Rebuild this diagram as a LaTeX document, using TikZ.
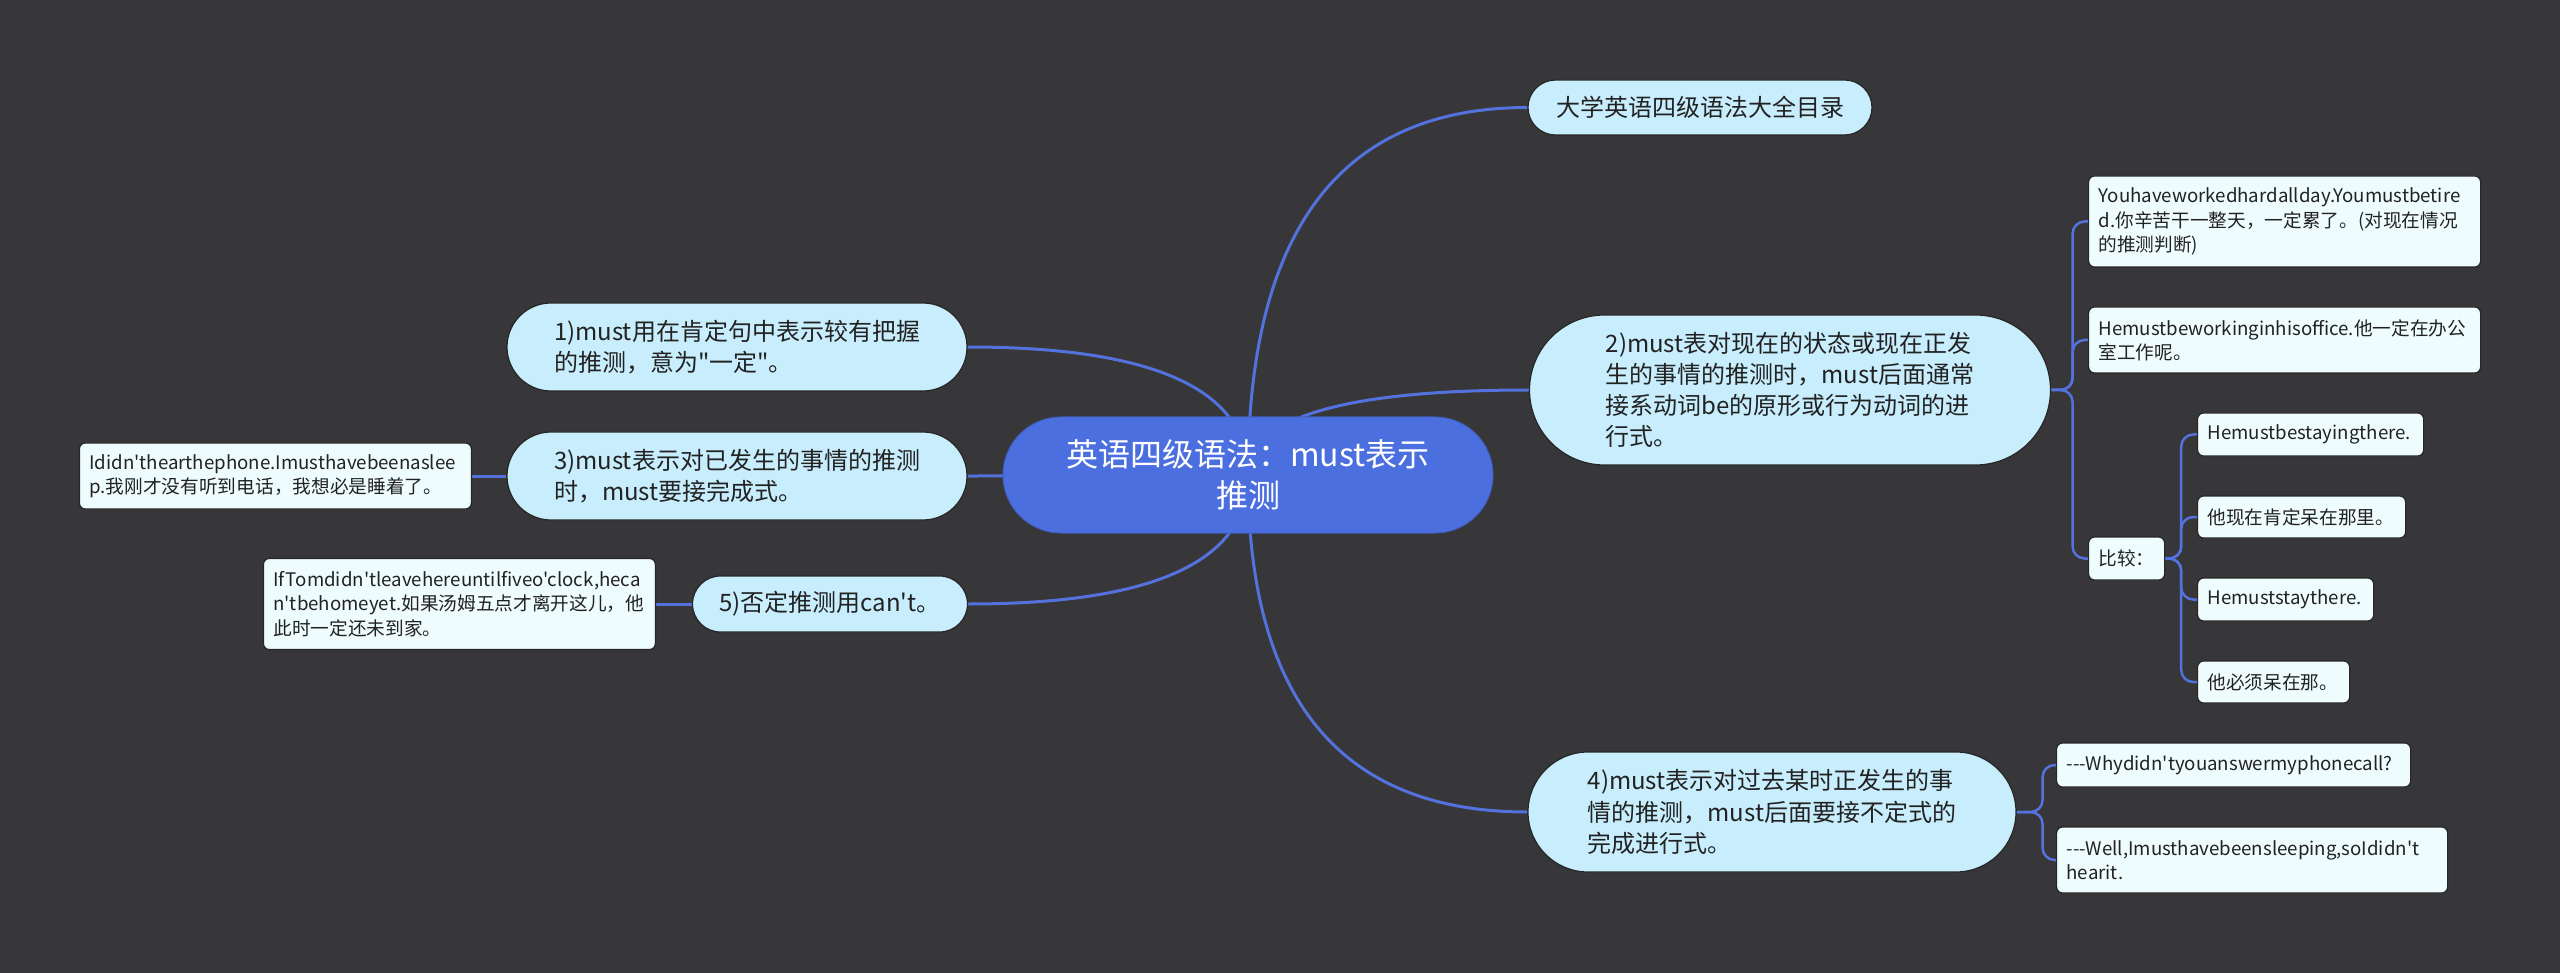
\documentclass[tikz,border=0pt]{standalone}
\usepackage{fontspec}
\newfontfamily\cjk{Noto Sans CJK SC}
\usetikzlibrary{shapes.misc,calc}
\definecolor{canvas}{RGB}{55,54,56}
\definecolor{rootblue}{RGB}{76,111,224}
\definecolor{linkblue}{RGB}{84,114,222}
\definecolor{topicfill}{RGB}{200,237,252}
\definecolor{notefill}{RGB}{239,252,253}
\definecolor{inktext}{RGB}{34,34,34}
\pgfdeclarelayer{back}
\pgfdeclarelayer{wires}
\pgfsetlayers{back,wires,main}
\hyphenpenalty=10000
\tikzset{
  rootnode/.style={rounded rectangle, fill=rootblue, draw=rootblue!85!black,
    line width=1pt, text=white, inner sep=0pt, align=center,
    font=\cjk\fontsize{32}{41.6}\selectfont},
  topicnode/.style={rounded rectangle, fill=topicfill, draw=black!85,
    line width=1.2pt, text=inktext, inner sep=0pt, align=left,
    font=\cjk\fontsize{24}{31.2}\selectfont},
  notenode/.style={rectangle, rounded corners=6pt, fill=notefill, draw=black!85,
    line width=1.2pt, text=inktext, inner xsep=10pt, inner ysep=0pt, align=left,
    font=\cjk\fontsize{18.67}{24.3}\selectfont},
  link/.style={draw=linkblue, line width=3pt},
  sublink/.style={draw=linkblue, line width=2.5pt, rounded corners=12pt},
}
\begin{document}
\begin{tikzpicture}[x=1pt, y=-1pt]
  \begin{pgfonlayer}{back}
    \fill[canvas] (0,0) rectangle (2560,973);
  \end{pgfonlayer}
  % centre and main topics
  \node[rootnode, minimum width=490pt, minimum height=116pt] (hub) at (1248,475) {英语四级语法：must表示\\推测};
  \node[topicnode, minimum width=344pt, minimum height=55pt] (top) at (1700,107.5) {大学英语四级语法大全目录};
  \node[topicnode, minimum width=521pt, minimum height=150pt] (n2) at (1790,390) {2)must表对现在的状态或现在正发\\生的事情的推测时，must后面通常\\接系动词be的原形或行为动词的进\\行式。};
  \node[topicnode, minimum width=488pt, minimum height=120pt] (n4) at (1772,812) {4)must表示对过去某时正发生的事\\情的推测，must后面要接不定式的\\完成进行式。};
  \node[topicnode, minimum width=460pt, minimum height=88pt] (n1) at (737,347) {1)must用在肯定句中表示较有把握\\的推测，意为"一定"。};
  \node[topicnode, minimum width=460pt, minimum height=88pt] (n3) at (737,476) {3)must表示对已发生的事情的推测\\时，must要接完成式。};
  \node[topicnode, minimum width=275pt, minimum height=56pt] (n5) at (830,604) {5)否定推测用can't。};
  % examples
  \node[notenode, anchor=west, text width=372pt, minimum height=91pt] (tired) at (2088,221.5) {Youhaveworkedhardallday.Youmustbetire\\d.你辛苦干一整天，一定累了。(对现在情况\\的推测判断)};
  \node[notenode, anchor=west, text width=372pt, minimum height=66pt] (office) at (2088,340) {Hemustbeworkinginhisoffice.他一定在办公\\室工作呢。};
  \node[notenode, anchor=west, minimum height=43pt] (cmp) at (2088,558.5) {比较：};
  \node[notenode, anchor=west, text width=206pt, minimum height=43pt] (stay1) at (2197,434.5) {Hemustbestayingthere.};
  \node[notenode, anchor=west, text width=188pt, minimum height=42pt] (stay2) at (2197,517) {他现在肯定呆在那里。};
  \node[notenode, anchor=west, text width=156pt, minimum height=43pt] (stay3) at (2197,599.5) {Hemuststaythere.};
  \node[notenode, anchor=west, text width=132pt, minimum height=42pt] (stay4) at (2197,682) {他必须呆在那。};
  \node[notenode, anchor=west, text width=334pt, minimum height=44pt] (why) at (2056,765) {---Whydidn'tyouanswermyphonecall?};
  \node[notenode, anchor=west, text width=371pt, minimum height=66pt] (well) at (2056,860) {---Well,Imusthavebeensleeping,soIdidn't\\hearit.};
  \node[notenode, anchor=east, text width=372pt, minimum height=66pt] (asleep) at (472,476) {Ididn'thearthephone.Imusthavebeenaslee\\p.我刚才没有听到电话，我想必是睡着了。};
  \node[notenode, anchor=east, text width=372pt, minimum height=91pt] (tom) at (656,604) {IfTomdidn'tleavehereuntilfiveo'clock,heca\\n'tbehomeyet.如果汤姆五点才离开这儿，他\\此时一定还未到家。};
  % connectors
  \begin{pgfonlayer}{wires}
    \foreach \kid/\side in {top/west, n2/west, n4/west, n1/east, n3/east, n5/east}
      \draw[link] (hub.center) .. controls ($(hub.center)!0.667!(hub.center |- \kid.\side)$) and ($(\kid.\side)!0.667!(hub.center |- \kid.\side)$) .. (\kid.\side);
    \foreach \kid in {tired, office, cmp}
      \draw[sublink] (n2.east) -- ++(21.5,0) |- (\kid.west);
    \foreach \kid in {stay1, stay2, stay3, stay4}
      \draw[sublink] (cmp.east) -- ++(16,0) |- (\kid.west);
    \foreach \kid in {why, well}
      \draw[sublink] (n4.east) -- ++(26,0) |- (\kid.west);
    \draw[link] (n3.west) -- (asleep.east);
    \draw[link] (n5.west) -- (tom.east);
  \end{pgfonlayer}
\end{tikzpicture}
\end{document}
